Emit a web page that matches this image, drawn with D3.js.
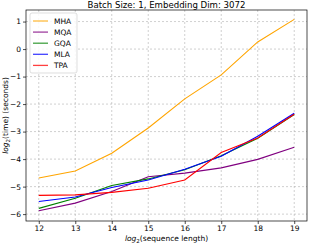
<!DOCTYPE html>
<html>
<head>
<meta charset="utf-8">
<script src="https://cdn.jsdelivr.net/npm/d3@7"></script>
<style>
  body { margin: 0; background: #fff; }
  svg { display: block; font-family: "DejaVu Sans", sans-serif; }
</style>
</head>
<body>
<svg id="chart" width="309" height="243"></svg>
<script>
// sequence length (log2)
const seqLens = [12, 13, 14, 15, 16, 17, 18, 19];
// log2(time) per method
const mha = [-4.69, -4.43, -3.79, -2.87, -1.81, -0.94, 0.26, 1.08];
const mqa = [-5.88, -5.60, -5.18, -4.64, -4.51, -4.32, -4.01, -3.57];
const gqa = [-5.79, -5.42, -4.96, -4.72, -4.39, -3.88, -3.24, -2.38];
const mla = [-5.54, -5.38, -5.03, -4.76, -4.37, -3.90, -3.17, -2.33];
const tpa = [-5.32, -5.30, -5.21, -5.06, -4.76, -3.76, -3.23, -2.37];
const seriesNames = ['MHA', 'MQA', 'GQA', 'MLA', 'TPA'];
const seriesColors = ['#ffa500', '#800080', '#008000', '#0000ff', '#ff0000'];
const xTicks = [12, 13, 14, 15, 16, 17, 18, 19];
const yTicks = [-6, -5, -4, -3, -2, -1, 0, 1];

const series = [mha, mqa, gqa, mla, tpa];

const margin = {top: 10, right: 2, bottom: 22, left: 26};
const width = 309, height = 243;

const svg = d3.select('#chart');

const x = d3.scaleLinear()
	.domain([11.65, 19.35])
	.range([margin.left, width - margin.right]);

const y = d3.scaleLinear()
	.domain([-6.25, 1.42])
	.range([height - margin.bottom, margin.top]);

// grid
svg.append('g')
	.selectAll('line')
	.data(xTicks)
	.join('line')
		.attr('x1', d => x(d)).attr('x2', d => x(d))
		.attr('y1', margin.top).attr('y2', height - margin.bottom)
		.attr('stroke', '#b0b0b0')
		.attr('stroke-width', 0.6)
		.attr('stroke-dasharray', '2,2');

svg.append('g')
	.selectAll('line')
	.data(yTicks)
	.join('line')
		.attr('x1', margin.left).attr('x2', width - margin.right)
		.attr('y1', d => y(d)).attr('y2', d => y(d))
		.attr('stroke', '#b0b0b0')
		.attr('stroke-width', 0.6)
		.attr('stroke-dasharray', '2,2');

// axes
const xAxis = svg.append('g')
	.attr('transform', 'translate(0,' + (height - margin.bottom) + ')')
	.call(d3.axisBottom(x).tickValues(xTicks).tickSize(3).tickPadding(2).tickSizeOuter(0));

const yAxis = svg.append('g')
	.attr('transform', 'translate(' + margin.left + ',0)')
	.call(d3.axisLeft(y).tickValues(yTicks).tickSize(3).tickPadding(2)
		.tickFormat(d => d < 0 ? '\u2212' + Math.abs(d) : d).tickSizeOuter(0));

[xAxis, yAxis].forEach(a => {
	a.select('.domain').remove();
	a.selectAll('text').attr('font-size', 7.5).attr('fill', '#000').attr('font-family', '"DejaVu Sans", sans-serif');
	a.selectAll('line').attr('stroke', '#000').attr('stroke-width', 0.7);
});

// lines
const line = d3.line()
	.x((d, i) => x(seqLens[i]))
	.y(d => y(d));

svg.append('g')
	.selectAll('path')
	.data(series)
	.join('path')
		.attr('d', d => line(d))
		.attr('fill', 'none')
		.attr('stroke', (d, i) => seriesColors[i])
		.attr('stroke-width', 1.1);

// frame
svg.append('rect')
	.attr('x', margin.left).attr('y', margin.top)
	.attr('width', width - margin.left - margin.right)
	.attr('height', height - margin.top - margin.bottom)
	.attr('fill', 'none')
	.attr('stroke', '#000')
	.attr('stroke-width', 0.7);

// title
svg.append('text')
	.attr('x', (margin.left + width - margin.right) / 2)
	.attr('y', 8)
	.attr('text-anchor', 'middle')
	.attr('font-size', 8.6)
	.text('Batch Size: 1, Embedding Dim: 3072');

// x label
const xl = svg.append('text')
	.attr('x', (margin.left + width - margin.right) / 2)
	.attr('y', height - 2)
	.attr('text-anchor', 'middle')
	.attr('font-size', 7.5);
xl.append('tspan').attr('font-style', 'italic').text('log');
xl.append('tspan').attr('font-size', 5.5).attr('dy', 2).text('2');
xl.append('tspan').attr('dy', -2).text('(sequence length)');

// y label
const yl = svg.append('text')
	.attr('transform', 'translate(7.5,' + ((margin.top + height - margin.bottom) / 2) + ') rotate(-90)')
	.attr('text-anchor', 'middle')
	.attr('font-size', 7.5);
yl.append('tspan').attr('font-style', 'italic').text('log');
yl.append('tspan').attr('font-size', 5.5).attr('dy', 2).text('2');
yl.append('tspan').attr('dy', -2).text('(time) (seconds)');

// legend
const legend = svg.append('g').attr('transform', 'translate(30,13)');
legend.append('rect')
	.attr('width', 47).attr('height', 60)
	.attr('rx', 2)
	.attr('fill', '#fff').attr('fill-opacity', 0.85)
	.attr('stroke', '#d0d0d0').attr('stroke-width', 0.7);

const items = legend.selectAll('g.item')
	.data(seriesNames)
	.join('g')
		.attr('class', 'item')
		.attr('transform', (d, i) => 'translate(0,' + (8 + i * 11.1) + ')');

items.append('line')
	.attr('x1', 3).attr('x2', 18)
	.attr('stroke', (d, i) => seriesColors[i])
	.attr('stroke-width', 1.3)
	.attr('stroke-opacity', 0.75);

items.append('text')
	.attr('x', 24)
	.attr('dy', '0.35em')
	.attr('font-size', 7.5)
	.text(d => d);
</script>
</body>
</html>
